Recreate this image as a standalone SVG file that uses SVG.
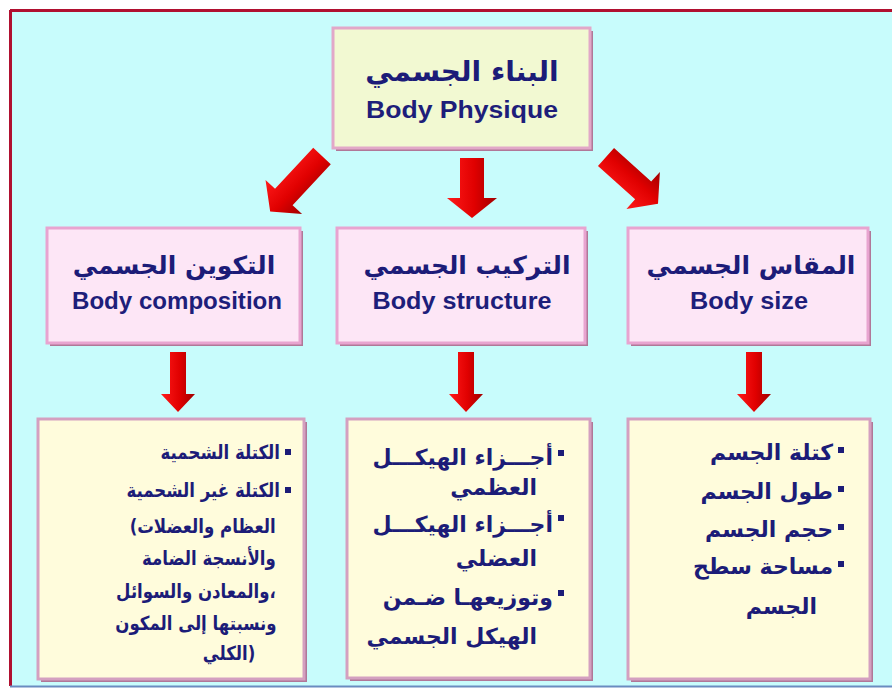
<svg xmlns="http://www.w3.org/2000/svg" width="892" height="689" viewBox="0 0 892 689">
<defs>
<linearGradient id="red" x1="0" y1="0" x2="1" y2="0">
<stop offset="0" stop-color="#ff1a1a"/>
<stop offset="0.55" stop-color="#e00000"/>
<stop offset="1" stop-color="#a00000"/>
</linearGradient>
<style>
.ar{font-family:"DejaVu Sans",sans-serif;font-weight:bold;fill:#1c1c78}
.t{font-size:25px;text-anchor:middle}
.t0{font-size:28px;text-anchor:middle}
.b{font-size:22px;text-anchor:end}
.s{font-size:19.5px;text-anchor:end}
.en{font-family:"Liberation Sans",Arial,sans-serif;font-weight:bold;fill:#1e1e7a}
.sh{fill:#b07898}
.top{fill:#f2f9d2;stroke:#e2a8c8;stroke-width:3}
.mid{fill:#fde6f6;stroke:#e8a4d0;stroke-width:3}
.bot{fill:#fffcdc;stroke:#d4a0c0;stroke-width:3}
.bul{fill:#1c1c78}
.arrow{fill:url(#red)}
</style>
</defs>
<rect x="0" y="0" width="892" height="689" fill="#ffffff"/>
<rect x="11" y="11" width="881" height="675" fill="#c8fcfc"/>
<line x1="10" y1="10.5" x2="892" y2="10.5" stroke="#b01030" stroke-width="3"/>
<line x1="10.5" y1="10" x2="10.5" y2="686" stroke="#b01030" stroke-width="3"/>
<line x1="10" y1="686.5" x2="892" y2="686.5" stroke="#6a8cc0" stroke-width="2"/>

<g id="connectors">
<path class="arrow" transform="translate(472,158)" d="M-12 0H12V40H25L0 60L-25 40H-12Z"/>
<path class="arrow" transform="translate(322,156) rotate(43)" d="M-12 0H12V56H25L0 76L-25 56H-12Z"/>
<path class="arrow" transform="translate(606,157) rotate(-48)" d="M-12 0H12V50H25L0 70L-25 50H-12Z"/>
<path class="arrow" transform="translate(178,352)" d="M-8 0H8V42H17L0 60L-17 42H-8Z"/>
<path class="arrow" transform="translate(466,352)" d="M-8 0H8V42H17L0 60L-17 42H-8Z"/>
<path class="arrow" transform="translate(754,352)" d="M-8 0H8V42H17L0 60L-17 42H-8Z"/>
</g>

<g id="body-physique">
<rect class="sh" x="336" y="31" width="257" height="120"/>
<rect class="top" x="333" y="28" width="257" height="120"/>
<text class="ar t0" x="462" y="81">البناء الجسمي</text>
<text class="en" x="462" y="118" font-size="23" text-anchor="middle" textLength="192" lengthAdjust="spacingAndGlyphs">Body Physique</text>
</g>

<g id="body-composition">
<rect class="sh" x="50" y="231" width="253" height="115"/>
<rect class="mid" x="47" y="228" width="253" height="115"/>
<text class="ar t" x="174" y="274">التكوين الجسمي</text>
<text class="en" x="177" y="309" font-size="23" text-anchor="middle" textLength="210" lengthAdjust="spacingAndGlyphs">Body composition</text>
</g>

<g id="body-structure">
<rect class="sh" x="340" y="231" width="248" height="115"/>
<rect class="mid" x="337" y="228" width="248" height="115"/>
<text class="ar t" x="467" y="274">التركيب الجسمي</text>
<text class="en" x="462" y="309" font-size="23" text-anchor="middle" textLength="179" lengthAdjust="spacingAndGlyphs">Body structure</text>
</g>

<g id="body-size">
<rect class="sh" x="631" y="231" width="240" height="115"/>
<rect class="mid" x="628" y="228" width="240" height="115"/>
<text class="ar t" x="751" y="274">المقاس الجسمي</text>
<text class="en" x="749" y="309" font-size="23" text-anchor="middle" textLength="118" lengthAdjust="spacingAndGlyphs">Body size</text>
</g>

<g id="composition-list">
<rect class="sh" x="41" y="422" width="266" height="260"/>
<rect class="bot" x="38" y="419" width="266" height="260"/>
<rect class="bul" x="285" y="449" width="6" height="6"/>
<rect class="bul" x="285" y="487" width="6" height="6"/>
<g transform="translate(280,0) scale(0.85,1) translate(-280,0)">
<text class="ar s" x="280" y="459">الكتلة الشحمية</text>
<text class="ar s" x="280" y="497">الكتلة غير الشحمية</text>
<text class="ar s" x="275" y="533">(العظام والعضلات</text>
<text class="ar s" x="275" y="565">والأنسجة الضامة</text>
<text class="ar s" x="275" y="598">والمعادن والسوائل،</text>
<text class="ar s" x="276" y="630">ونسبتها إلى المكون</text>
<text class="ar s" x="251" y="660">الكلي)</text>
</g>
</g>

<g id="structure-list">
<rect class="sh" x="350" y="422" width="243" height="259"/>
<rect class="bot" x="347" y="419" width="243" height="259"/>
<rect class="bul" x="558" y="450" width="6" height="6"/>
<rect class="bul" x="558" y="515" width="6" height="6"/>
<rect class="bul" x="558" y="590" width="6" height="6"/>
<text class="ar b" x="553" y="465">أجـــزاء الهيكـــل</text>
<text class="ar b" x="537" y="495">العظمي</text>
<text class="ar b" x="553" y="532">أجـــزاء الهيكـــل</text>
<text class="ar b" x="537" y="566">العضلي</text>
<text class="ar b" x="553" y="605">وتوزيعهـا ضـمن</text>
<text class="ar b" x="537" y="644">الهيكل الجسمي</text>
</g>

<g id="size-list">
<rect class="sh" x="631" y="422" width="242" height="260"/>
<rect class="bot" x="628" y="419" width="242" height="260"/>
<rect class="bul" x="838" y="447" width="6" height="6"/>
<rect class="bul" x="838" y="486" width="6" height="6"/>
<rect class="bul" x="838" y="524" width="6" height="6"/>
<rect class="bul" x="838" y="561" width="6" height="6"/>
<text class="ar b" x="833" y="460">كتلة الجسم</text>
<text class="ar b" x="833" y="499">طول الجسم</text>
<text class="ar b" x="833" y="537">حجم الجسم</text>
<text class="ar b" x="833" y="574">مساحة سطح</text>
<text class="ar b" x="817" y="614">الجسم</text>
</g>
</svg>
